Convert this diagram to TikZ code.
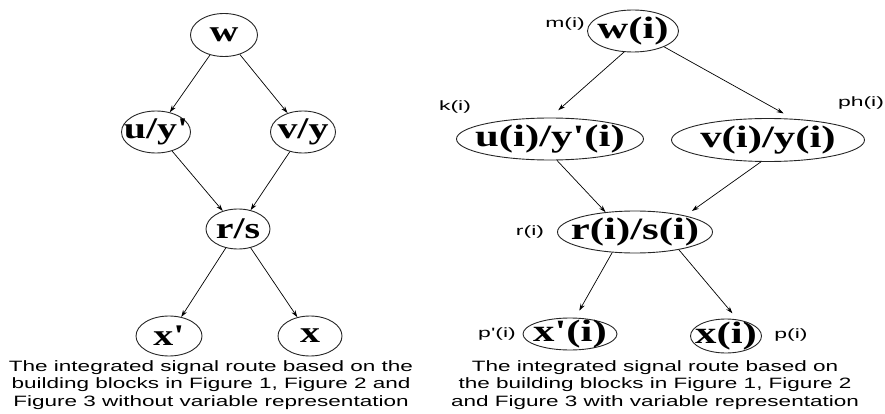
\documentclass[tikz,border=0pt]{standalone}
\usepackage{fontspec}
\setmainfont{Liberation Serif}
\newfontfamily\leftfont[FakeStretch=1.33]{Liberation Serif}
\newfontfamily\rightfont[FakeStretch=1.38]{Liberation Serif}
\newfontfamily\labfont[FakeStretch=1.7]{Liberation Sans}
\newfontfamily\capfont[FakeStretch=1.5]{Liberation Sans}
\usetikzlibrary{arrows.meta,positioning,shapes.geometric}

\begin{document}
\begin{tikzpicture}[x=1pt,y=-1pt,
  ell/.style={draw=black!85,ellipse,line width=0.9pt,inner sep=0pt},
  ltext/.style={font=\leftfont\bfseries\fontsize{30}{30}\selectfont,inner sep=0pt},
  rtext/.style={font=\rightfont\bfseries\fontsize{31}{31}\selectfont,inner sep=0pt},
  lnode/.style={ell,label={[ltext]center:#1}},
  rnode/.style={ell,label={[rtext]center:#1}},
  lab/.style={font=\labfont\fontsize{13.5}{13.5}\selectfont,inner sep=0pt},
  caption/.style={font=\capfont\fontsize{15}{17.5}\selectfont,align=center,inner sep=0pt},
  arr/.style={-{Stealth[length=7pt,width=4.5pt]},line width=0.7pt}]
\useasboundingbox (0,0) rectangle (885,414);
% without variables
\node[lnode={w},minimum width=67,minimum height=43] (w) at (224,35) {};
\node[lnode={u/y'},minimum width=69,minimum height=42] (uy) at (156,132) {};
\node[lnode={v/y},minimum width=65,minimum height=42] (vy) at (303,132) {};
\node[lnode={r/s},minimum width=64,minimum height=40] (rs) at (238,229) {};
\node[lnode={x'},minimum width=66,minimum height=40] (xp) at (169,336) {};
\node[lnode={x},minimum width=64,minimum height=40] (x) at (310,336) {};
\draw[arr] (w) -- (uy); \draw[arr] (w) -- (vy);
\draw[arr] (uy) -- (rs); \draw[arr] (vy) -- (rs);
\draw[arr] (rs) -- (xp); \draw[arr] (rs) -- (x);
\node[caption] (capl) at (211,385) {The integrated signal route based on the\\building blocks in Figure 1, Figure 2 and\\Figure 3 without variable representation};
% with variables
\node[rnode={w(i)},minimum width=91,minimum height=42] (wi) at (633,31) {};
\node[rnode={u(i)/y'(i)},minimum width=187,minimum height=42] (uyi) at (550,139) {};
\node[rnode={v(i)/y(i)},minimum width=193,minimum height=43] (vyi) at (768,140) {};
\node[rnode={r(i)/s(i)},minimum width=155,minimum height=42] (rsi) at (635,232) {};
\node[rnode={x'(i)},minimum width=94,minimum height=32] (xpi) at (570,334) {};
\node[rnode={x(i)},minimum width=71,minimum height=34] (xi) at (726,336) {};
\node[lab] (mi) at (565,24) {m(i)};
\node[lab] (ki) at (455,107) {k(i)};
\node[lab] (phi) at (861,103) {ph(i)};
\node[lab] (ri) at (530,232) {r(i)};
\node[lab] (ppi) at (497,334) {p'(i)};
\node[lab] (pi) at (791,335) {p(i)};
\draw[arr,shorten >=11pt] (wi.247) -- (uyi.north);
\draw[arr,shorten >=11pt] (wi.333) -- (vyi.40);
\draw[arr] (uyi.288) -- (rsi.146);
\draw[arr,shorten >=8pt] (vyi.252) -- (rsi.18);
\draw[arr,shorten >=8pt] (rsi.222) -- (xpi.72);
\draw[arr,shorten >=8pt] (rsi.338) -- (xi.55);
\node[caption] (capr) at (655,385) {The integrated signal route based on\\the building blocks in Figure 1, Figure 2\\and Figure 3 with variable representation};
\end{tikzpicture}
\end{document}
